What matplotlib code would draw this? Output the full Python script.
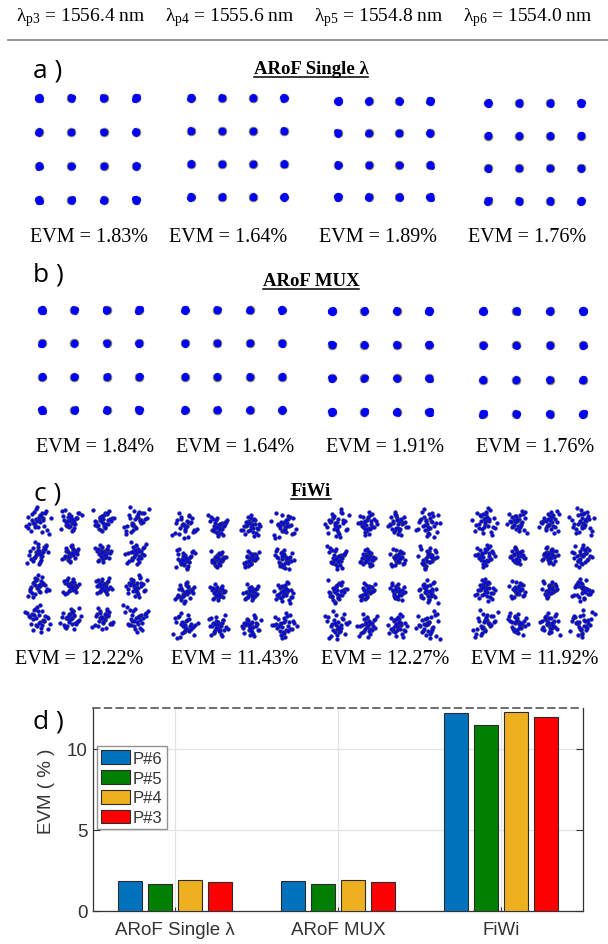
import numpy as np
import matplotlib
matplotlib.use("Agg")
import matplotlib.pyplot as plt
from matplotlib.lines import Line2D

# measured EVM values, left to right = lambda_p3 .. lambda_p6
WAVE_TAGS = ["p3", "p4", "p5", "p6"]
WAVELENGTHS = [1556.4, 1555.6, 1554.8, 1554.0]
EVM_SINGLE = [1.83, 1.64, 1.89, 1.76]
EVM_MUX = [1.84, 1.64, 1.91, 1.76]
EVM_FIWI = [12.22, 11.43, 12.27, 11.92]

SCHEMES = ["ARoF Single λ", "ARoF MUX", "FiWi"]
PORT_LABELS = ["P#6", "P#5", "P#4", "P#3"]
PORT_COLORS = ["#0072bd", "#007f00", "#edb120", "#ff0000"]

QAM_LEVELS = [-3, -1, 1, 3]

# received-symbol scatter around each ideal point, in units of sigma
NOISE_X = [0.3, -1.2, 0.8, -0.4, 1.9, -0.9, 0.1, -2.1, 1.1, 0.5, -0.2, -1.6,
           2.4, -0.7, 0.9, -0.1, 1.4, -1.0, 0.6, -2.6, 0.2, 1.7, -0.5, -1.3,
           0.0, 1.2, -0.8, 2.0, -0.3, 0.7, -1.8, 0.4]
NOISE_Y = [-0.6, 0.9, 1.5, -1.1, 0.2, -2.2, 0.7, 1.1, -0.3, -1.7, 2.3, 0.4,
           -0.9, 1.8, -0.1, -1.4, 0.6, 0.0, -2.5, 1.3, -0.7, 0.3, 2.0, -1.0,
           1.6, -0.4, 0.8, -1.9, 0.1, -1.2, 0.5, 2.7]

W, H = 608, 945

# panel placement in pixels: centre x, centre y, outer-point span x, span y
ROWS = [
    dict(evm=EVM_SINGLE, title="ARoF Single λ", tag="a )", tag_y=71, title_y=70,
         panels=[(87.5, 150, 97, 102), (237.5, 148.5, 93, 99),
                 (384, 150, 92, 96), (534.5, 153, 93, 98)],
         text_y=237, text_x=[89, 228, 378, 527], ms=3.4),
    dict(evm=EVM_MUX, title="ARoF MUX", tag="b )", tag_y=275, title_y=282,
         panels=[(90.5, 361, 97, 100), (233.5, 361, 97, 100),
                 (380.5, 362.5, 97, 101), (533, 363.5, 100, 103)],
         text_y=448, text_x=[95, 235, 385, 535], ms=3.4),
    dict(evm=EVM_FIWI, title="FiWi", tag="c )", tag_y=494, title_y=492,
         panels=[(87, 571, 98, 98), (234.5, 577, 99, 100),
                 (382.5, 576, 91, 102), (533.5, 574, 97, 102)],
         text_y=659, text_x=[79, 235, 385, 535], ms=2.7),
]

plt.rcParams["mathtext.fontset"] = "custom"
plt.rcParams["mathtext.rm"] = "Liberation Serif"
plt.rcParams["mathtext.it"] = "Liberation Serif:italic"

SERIF = "Liberation Serif"
SANS = "Liberation Sans"
TAG_FONT = "Open Sans"


def px_axes(fig, cx, cy, w, h):
    return fig.add_axes([(cx - w / 2) / W, 1 - (cy + h / 2) / H, w / W, h / H])


def fig_xy(x, y):
    return x / W, 1 - y / H


def constellation_points(evm, panel_idx):
    sigma = 0.72 * evm / 100 * np.sqrt(10) / np.sqrt(2)
    nx = np.array(NOISE_X)
    ny = np.array(NOISE_Y)
    xs, ys = [], []
    k = 0
    for i_level in QAM_LEVELS:
        for q_level in QAM_LEVELS:
            shift = (k * 7 + panel_idx * 3) % len(ny)
            flip = 1 if (k + panel_idx) % 2 == 0 else -1
            # outer points pick up extra spread from phase noise
            spread = sigma * (1.0 + 0.15 * (abs(i_level) + abs(q_level) - 2))
            xs.append(i_level + flip * spread * nx)
            ys.append(q_level + spread * np.roll(ny, shift))
            k += 1
    return np.concatenate(xs), np.concatenate(ys)


fig = plt.figure(figsize=(W / 100, H / 100), dpi=100)
fig.patch.set_facecolor("white")

# wavelength header
header_x = [81, 230, 379, 528]
for x, tag, wl in zip(header_x, WAVE_TAGS, WAVELENGTHS):
    fig.text(*fig_xy(x, 18), f"λ$_{{\\mathrm{{{tag}}}}}$ = {wl:.1f} nm",
             ha="center", va="center", fontsize=14, family=SERIF)
fig.add_artist(Line2D([8 / W, 1.0], [1 - 41 / H] * 2, color="#8c8c8c", lw=1.3))

ideal_i = [i for i in QAM_LEVELS for q in QAM_LEVELS]
ideal_q = [q for i in QAM_LEVELS for q in QAM_LEVELS]

titles = []
for r, row in enumerate(ROWS):
    fig.text(*fig_xy(48, row["tag_y"]), row["tag"], ha="center", va="center",
             fontsize=19, family=TAG_FONT)
    titles.append(fig.text(*fig_xy(311, row["title_y"]), row["title"], ha="center",
                           va="center", fontsize=13.5, family=SERIF, weight="bold"))
    for p, (cx, cy, sx, sy) in enumerate(row["panels"]):
        ax = px_axes(fig, cx, cy, sx * 8 / 6, sy * 8 / 6)
        xs, ys = constellation_points(row["evm"][p], p)
        if r < 2:
            # clean links: a grey rim round a tight blue dot
            ax.plot(ideal_i, ideal_q, "o", ms=6.4, mfc="#4d4d4d", mec="#8a8a8a",
                    mew=0.5, ls="none")
            ax.plot(xs, ys, "o", ms=row["ms"], mfc="#0000ff", mec="none", ls="none")
        else:
            ax.plot(xs, ys, "o", ms=row["ms"], mfc="#0000ff", mec="#3a3a3a",
                    mew=0.35, ls="none")
        ax.set_xlim(-4, 4)
        ax.set_ylim(-4, 4)
        ax.axis("off")
        fig.text(*fig_xy(row["text_x"][p], row["text_y"]),
                 f"EVM = {row['evm'][p]:.2f}%", ha="center", va="center",
                 fontsize=14.5, family=SERIF)

# underline the section titles
fig.canvas.draw()
renderer = fig.canvas.get_renderer()
for t in titles:
    bb = t.get_window_extent(renderer)
    y = (bb.y0 + 1) / fig.bbox.height
    fig.add_artist(Line2D([bb.x0 / fig.bbox.width, bb.x1 / fig.bbox.width], [y, y],
                          color="black", lw=1.1))

# d) grouped bar chart
bar_values = {
    "P#6": [EVM_SINGLE[0], EVM_MUX[0], EVM_FIWI[0]],
    "P#5": [EVM_SINGLE[1], EVM_MUX[1], EVM_FIWI[1]],
    "P#4": [EVM_SINGLE[2], EVM_MUX[2], EVM_FIWI[2]],
    "P#3": [EVM_SINGLE[3], EVM_MUX[3], EVM_FIWI[3]],
}

left, right, top, bottom = 93, 583, 709, 912
ax = fig.add_axes([left / W, 1 - bottom / H, (right - left) / W, (bottom - top) / H])
groups = np.arange(1, len(SCHEMES) + 1)
pitch = 0.184
for j, (label, color) in enumerate(zip(PORT_LABELS, PORT_COLORS)):
    ax.bar(groups + (j - 1.5) * pitch, bar_values[label], width=0.147, color=color,
           edgecolor="#2b2b2b", linewidth=0.8, label=label, zorder=3)

ax.set_xlim(0.5, 3.5)
ax.set_ylim(0, 12.5)
ax.set_xticks(groups)
ax.set_xticklabels(SCHEMES, family=SANS, fontsize=13.5, color="#333333")
ax.set_yticks([0, 5, 10])
ax.set_yticklabels(["0", "5", "10"], family=SANS, fontsize=13.5, color="#333333")
ax.tick_params(axis="y", direction="in", length=5, width=0.8, right=True, pad=4,
               color="#333333")
ax.tick_params(axis="x", direction="in", length=3, width=0.8, pad=7, color="#333333")
ax.grid(True, color="#e3e3e3", lw=0.9, zorder=0)
for side in ("left", "right", "bottom"):
    ax.spines[side].set_color("#333333")
    ax.spines[side].set_linewidth(0.9)
ax.spines["top"].set_linestyle((0, (4, 3)))
ax.spines["top"].set_color("#555555")
ax.spines["top"].set_linewidth(1.2)

ax.set_ylabel("EVM ( % )", family=SANS, fontsize=13.5, color="#333333", va="center")
ax.yaxis.set_label_coords(-0.094, 0.596)

leg = ax.legend(loc="upper left", bbox_to_anchor=(0.008, 0.813), frameon=True,
                fancybox=False, prop={"family": SANS, "size": 12},
                handlelength=1.75, handleheight=0.9, labelspacing=0.25,
                handletextpad=0.15, borderpad=0.25, borderaxespad=0)
leg.get_frame().set_edgecolor("#777777")
leg.get_frame().set_linewidth(1.0)
for txt in leg.get_texts():
    txt.set_color("#333333")

fig.text(*fig_xy(48, 722), "d )", ha="center", va="center", fontsize=19,
         family=TAG_FONT)

fig.savefig("out.png", dpi=100)
